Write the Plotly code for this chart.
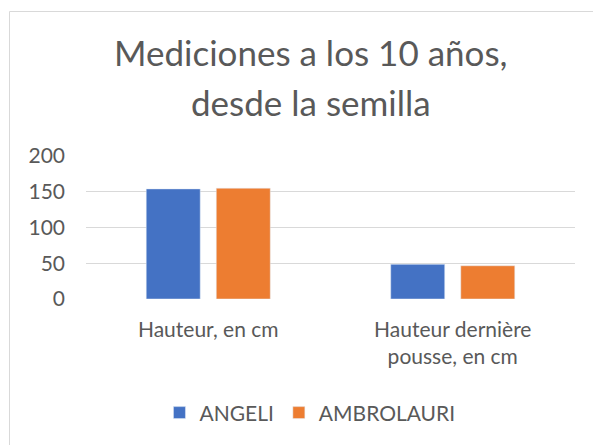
import plotly.graph_objects as go

categories = ["Hauteur, en cm", "Hauteur dernière<br>pousse, en cm"]
angeli = [154, 48.5]
ambrolauri = [155, 46.5]
series_names = ["ANGELI", "AMBROLAURI"]
y_ticks = [0, 50, 100, 150, 200]
title_lines = ["Mediciones a los 10 años,", "desde la semilla"]

FONT = "Lato, 'Open Sans', sans-serif"
GRAY = "#595959"

fig = go.Figure()
fig.add_trace(go.Bar(x=categories, y=angeli, name=series_names[0], marker_color="#4472C4"))
fig.add_trace(go.Bar(x=categories, y=ambrolauri, name=series_names[1], marker_color="#ED7D31"))

fig.update_layout(
    width=593, height=445,
    margin=dict(l=86, r=18, t=156, b=146),
    paper_bgcolor="white", plot_bgcolor="white",
    barmode="group", bargap=0.427, bargroupgap=0.229,
    font=dict(family=FONT, color=GRAY, size=21),
    showlegend=True,
    legend=dict(orientation="h", x=0.458, xanchor="center", y=-0.797, yanchor="middle",
                font=dict(size=21, color=GRAY), itemclick=False),
    xaxis=dict(showgrid=False, showline=False, zeroline=False, ticks="",
               ticklabelstandoff=16, tickfont=dict(size=21, color=GRAY)),
    yaxis=dict(range=[0, 200], tickvals=y_ticks, showgrid=True, gridcolor="#D9D9D9",
               gridwidth=1.3, zeroline=False, showline=False, ticks="",
               ticklabelstandoff=20, tickfont=dict(size=21, color=GRAY)),
)

fig.add_annotation(text=title_lines[0], xref="paper", yref="paper", x=0.46, y=1.73,
                   xanchor="center", yanchor="middle", showarrow=False,
                   font=dict(size=35, color=GRAY, family=FONT))
fig.add_annotation(text=title_lines[1], xref="paper", yref="paper", x=0.46, y=1.38,
                   xanchor="center", yanchor="middle", showarrow=False,
                   font=dict(size=35, color=GRAY, family=FONT))

fig.add_shape(type="rect", xref="paper", yref="paper", x0=-0.1564, x1=1.1, y0=-1.2, y1=2.0105,
              line=dict(color="#D9D9D9", width=1), fillcolor="rgba(0,0,0,0)", layer="below")

fig.write_html("out.html", config={"displayModeBar": False},
               post_script="document.body.style.margin='0px';")
